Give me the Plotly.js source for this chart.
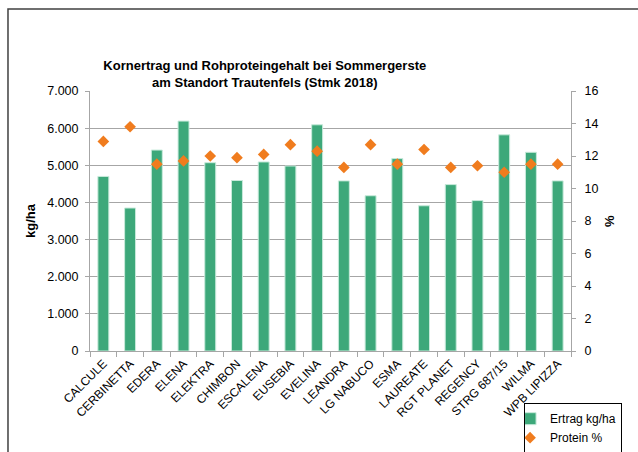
<!DOCTYPE html>
<html>
<head>
<meta charset="utf-8">
<script src="https://cdn.plot.ly/plotly-3.0.1.min.js"></script>
<style>
  html, body { margin: 0; padding: 0; background: #ffffff; }
  #chart { width: 638px; height: 452px; }
</style>
</head>
<body>
<div id="chart"></div>
<script>
const categories = ["CALCULE", "CERBINETTA", "EDERA", "ELENA", "ELEKTRA", "CHIMBON", "ESCALENA", "EUSEBIA", "EVELINA", "LEANDRA", "LG NABUCO", "ESMA", "LAUREATE", "RGT PLANET", "REGENCY", "STRG 687/15", "WILMA", "WPB LIPIZZA"];
const ertrag = [4700, 3850, 5410, 6190, 5070, 4590, 5090, 4980, 6090, 4580, 4180, 5180, 3910, 4480, 4050, 5820, 5350, 4580];
const protein = [12.9, 13.8, 11.5, 11.7, 12.0, 11.9, 12.1, 12.7, 12.3, 11.3, 12.7, 11.5, 12.4, 11.3, 11.4, 11.0, 11.5, 11.5];
const leftTicks = [0, 1000, 2000, 3000, 4000, 5000, 6000, 7000];
const rightTicks = [0, 2, 4, 6, 8, 10, 12, 14, 16];

const font = "Liberation Sans, Arial, sans-serif";
const gray = "#a6a6a6";

const traces = [
  {
    type: "bar",
    name: "Ertrag kg/ha",
    x: categories,
    y: ertrag,
    yaxis: "y",
    marker: { color: "#3da87a", line: { color: "#c8eadb", width: 1 } }
  },
  {
    type: "scatter",
    mode: "markers",
    name: "Protein %",
    x: categories,
    y: protein,
    yaxis: "y2",
    marker: { symbol: "diamond", color: "#f07c1e", size: 9 }
  }
];

const layout = {
  width: 638,
  height: 452,
  margin: { l: 90, r: 67, t: 91, b: 101, autoexpand: false },
  paper_bgcolor: "#ffffff",
  plot_bgcolor: "#ffffff",
  separators: ",.",
  font: { family: font, size: 12, color: "#000000" },
  showlegend: true,
  bargap: 0.59,
  title: {
    text: "<b>Kornertrag und Rohproteingehalt bei Sommergerste<br>am Standort Trautenfels (Stmk 2018)</b>",
    font: { family: font, size: 13, color: "#000000" },
    x: 0.415,
    xanchor: "center",
    xref: "container",
    y: 0.846,
    yanchor: "top",
    yref: "container"
  },
  xaxis: {
    type: "category",
    range: [-0.5, categories.length - 0.5],
    automargin: false,
    tickangle: -45,
    tickfont: { family: font, size: 12, color: "#000000" },
    showline: true,
    linecolor: gray,
    linewidth: 1,
    ticks: "outside",
    tickson: "boundaries",
    ticklen: 5,
    tickcolor: gray,
    showgrid: false,
    zeroline: false
  },
  yaxis: {
    range: [0, 7000],
    automargin: false,
    tickvals: leftTicks,
    tickformat: ",d",
    tickfont: { family: font, size: 12.5, color: "#000000" },
    showline: true,
    linecolor: gray,
    linewidth: 1,
    ticks: "outside",
    ticklen: 4,
    tickcolor: gray,
    ticklabelstandoff: 4,
    showgrid: true,
    gridcolor: gray,
    gridwidth: 1,
    zeroline: false,
    title: { text: "<b>kg/ha</b>", font: { family: font, size: 13, color: "#000000" }, standoff: 8 }
  },
  yaxis2: {
    overlaying: "y",
    side: "right",
    automargin: false,
    range: [0, 16],
    tickvals: rightTicks,
    tickfont: { family: font, size: 12.5, color: "#000000" },
    showline: true,
    linecolor: gray,
    linewidth: 1,
    ticks: "outside",
    ticklen: 4,
    tickcolor: gray,
    ticklabelstandoff: 6,
    showgrid: false,
    zeroline: false
  },
  annotations: [
    {
      text: "<b>%</b>",
      xref: "paper",
      yref: "paper",
      x: (609 - 90) / 481,
      y: 0.5,
      xanchor: "center",
      yanchor: "middle",
      textangle: -90,
      showarrow: false,
      font: { family: font, size: 13, color: "#000000" }
    }
  ],
  legend: {
    xref: "container",
    yref: "container",
    x: 0.975,
    xanchor: "right",
    y: 0.108,
    yanchor: "top",
    bgcolor: "#ffffff",
    bordercolor: "#000000",
    borderwidth: 1,
    font: { family: font, size: 12, color: "#000000" },
    itemwidth: 30,
    indentation: -15,
    tracegroupgap: 0
  },
  shapes: [
    {
      type: "rect",
      xref: "paper",
      yref: "paper",
      x0: -0.1705,
      x1: 3,
      y0: -3,
      y1: 1.3154,
      line: { color: "#404040", width: 1.5 },
      fillcolor: "rgba(0,0,0,0)",
      layer: "below"
    }
  ]
};

Plotly.newPlot("chart", traces, layout, { displayModeBar: false, staticPlot: true });
</script>
</body>
</html>
